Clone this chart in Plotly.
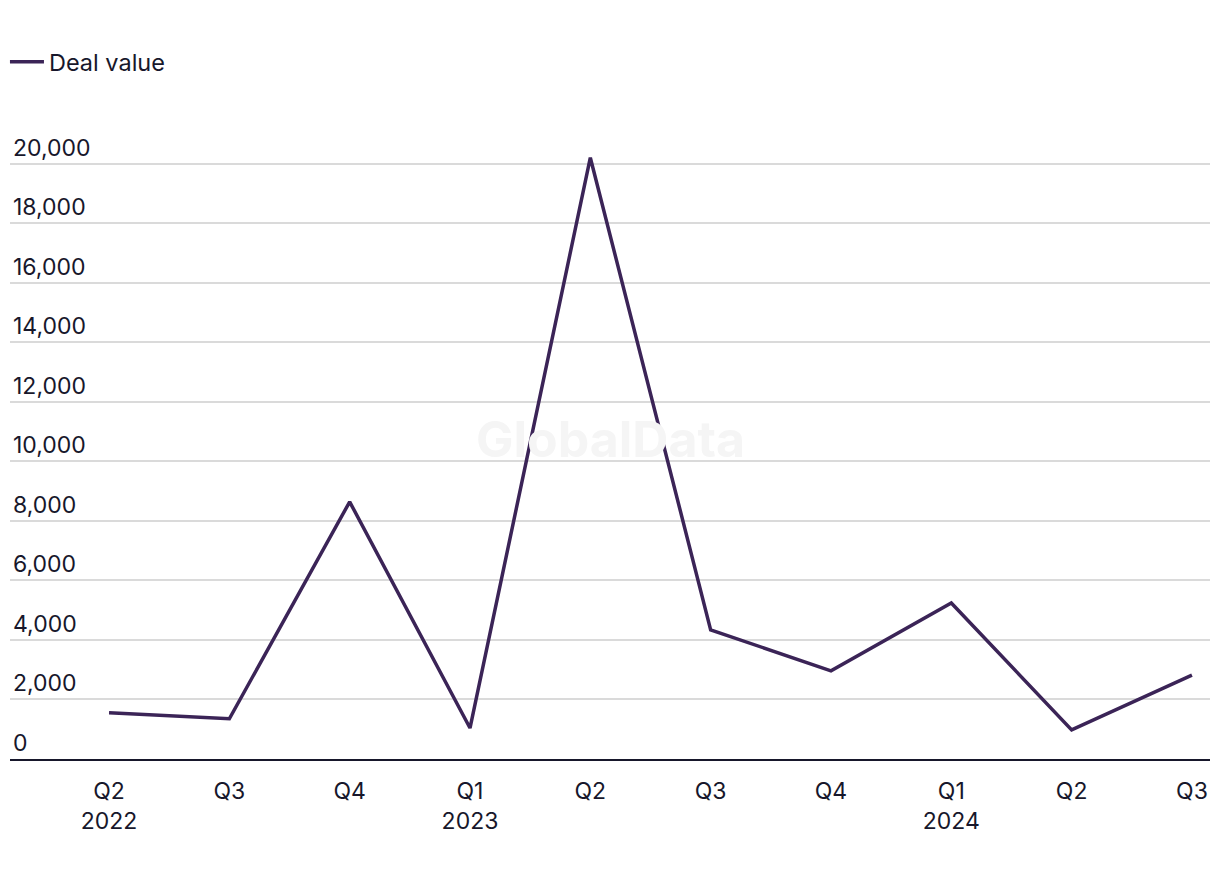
import plotly.graph_objects as go

quarters = ["Q2<br>2022", "Q3", "Q4", "Q1<br>2023", "Q2", "Q3", "Q4", "Q1<br>2024", "Q2", "Q3"]
deal_value = [1550, 1350, 8640, 1040, 20200, 4340, 2960, 5240, 980, 2820]
y_ticks = [0, 2000, 4000, 6000, 8000, 10000, 12000, 14000, 16000, 18000, 20000]

xs = list(range(len(quarters)))
font_family = "Inter, Roboto, Arial, sans-serif"
text_color = "#17172b"

y_top = 21500
top_margin = 759 - y_top * 595 / 20000

fig = go.Figure()
fig.add_trace(go.Scatter(
    x=xs, y=deal_value, mode="lines", name="Deal value",
    line=dict(color="#3b2457", width=3.5),
))

fig.update_layout(
    width=1220, height=880,
    paper_bgcolor="white", plot_bgcolor="white",
    margin=dict(l=10, r=10, t=top_margin, b=121),
    font=dict(family=font_family, size=23, color=text_color),
    showlegend=True,
    legend=dict(orientation="h", x=-0.0042, xanchor="left", y=1 - 62 / 880, yanchor="middle",
                yref="container", itemwidth=34,
                font=dict(size=23.5, color=text_color)),
    xaxis=dict(
        range=[-0.823, 9.15], tickmode="array", tickvals=xs, ticktext=quarters,
        showgrid=False, zeroline=False, showline=True, linecolor="#17172b", linewidth=2,
        ticks="", tickfont=dict(size=23, color=text_color), ticklabelstandoff=10,
        fixedrange=True,
    ),
    yaxis=dict(
        range=[0, y_top], tickmode="array", tickvals=y_ticks,
        tickformat=",d", ticklabelposition="inside top",
        showgrid=True, gridcolor="#dadada", gridwidth=2,
        zeroline=False, showline=False, ticks="",
        tickfont=dict(size=23, color=text_color), fixedrange=True,
    ),
    annotations=[dict(
        text="<b>GlobalData</b>", x=0.5, y=0.5, xref="paper", yref="paper",
        showarrow=False, font=dict(size=50, color="#f5f5f5", family=font_family),
    )],
)
fig.write_html("out.html", post_script="document.body.style.margin='0';",
               config={"displayModeBar": False})
